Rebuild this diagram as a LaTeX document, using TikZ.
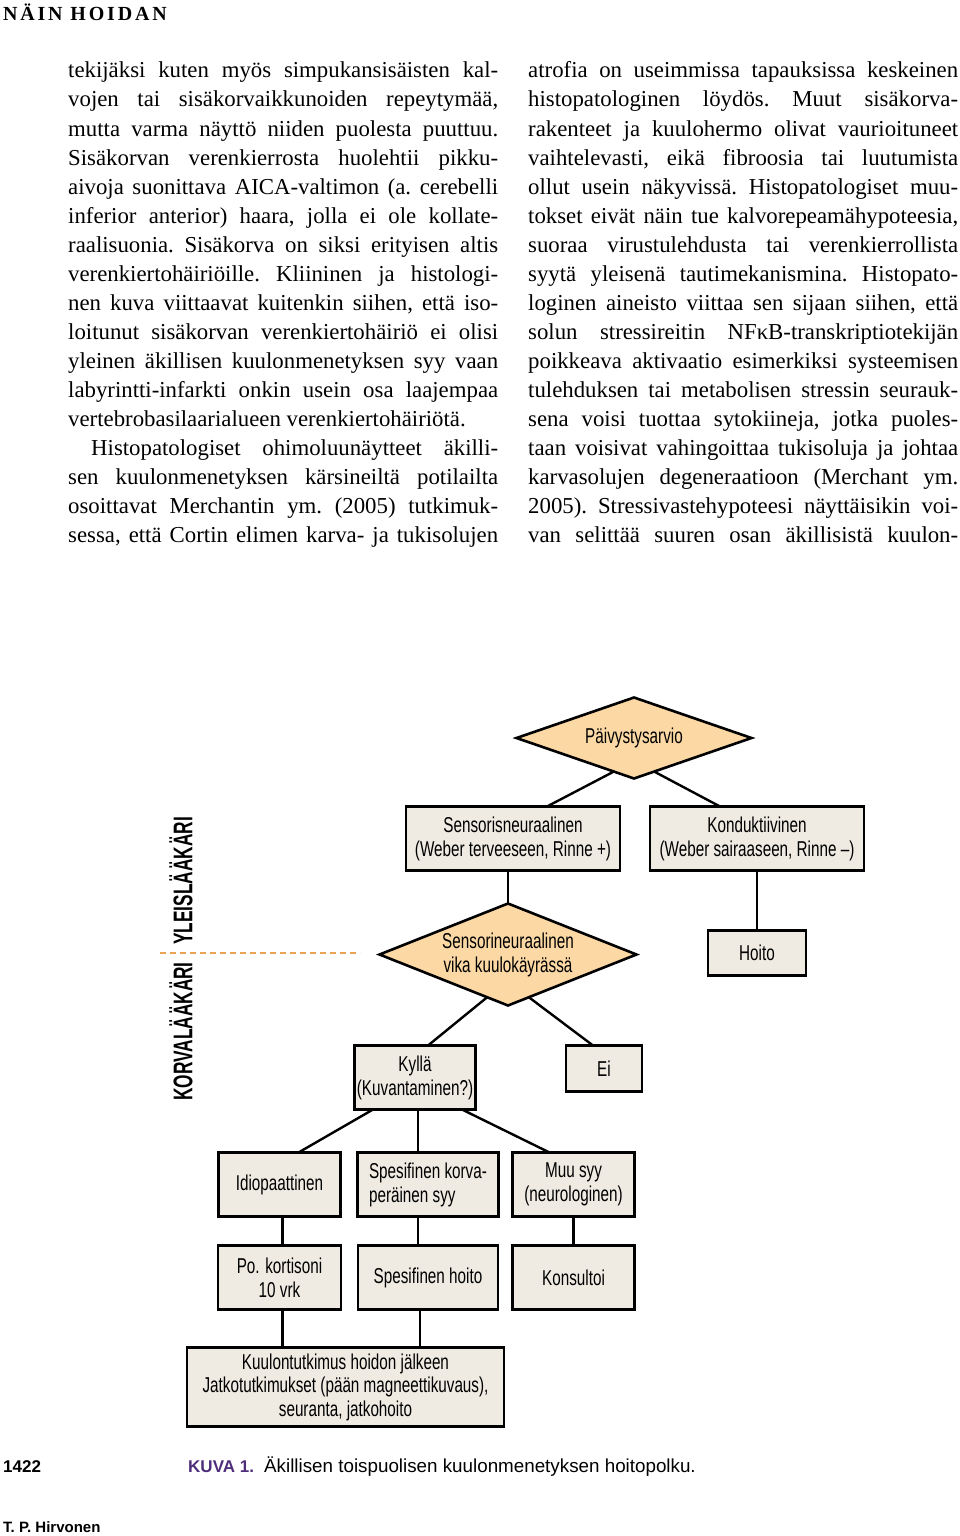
\documentclass[tikz,border=0pt]{standalone}
\usepackage{fontspec}
\setmainfont{Liberation Serif}
\setsansfont{Liberation Sans}
\newfontfamily\condsans[FakeStretch=0.71]{Liberation Sans}
\newfontfamily\vertsans[FakeStretch=0.64]{Liberation Sans}
\newfontfamily\headfont[LetterSpace=14]{Liberation Serif}
\usetikzlibrary{positioning,shapes.geometric}

\definecolor{boxfill}{RGB}{239,235,226}
\definecolor{decfill}{RGB}{251,216,164}
\definecolor{dashorange}{RGB}{234,163,84}
\definecolor{kuvapurple}{RGB}{78,46,122}

\begin{document}
\begin{tikzpicture}[x=1pt, y=-1pt, line width=2.4pt,
                    box/.style={draw,fill=boxfill,line width=2.6pt,align=center,inner sep=2pt,outer sep=0pt,
                                font=\condsans\fontsize{21.5}{24}\selectfont},
                    dec/.style={diamond,aspect=2.5,draw,fill=decfill,line width=2.6pt,align=center,inner sep=0pt,
                                outer sep=0pt,font=\condsans\fontsize{21.5}{24}\selectfont},
                    bodyline/.style={anchor=base west,inner sep=0pt,font=\frenchspacing\fontsize{22.8}{29}\selectfont},
                    vlabel/.style={rotate=90,inner sep=0pt,font=\vertsans\bfseries\fontsize{27}{27}\selectfont}
                    ]
    \useasboundingbox (0,0) rectangle (960,1536);

    \node (head) [anchor=west,inner sep=0pt] at (2,12) {\headfont\bfseries\fontsize{20}{20}\selectfont NÄIN HOIDAN};

    % text columns
    \foreach \txt [count=\i] in {
      {tekijäksi kuten myös simpukansisäisten kal-},
      {vojen tai sisäkorvaikkunoiden repeytymää,},
      {mutta varma näyttö niiden puolesta puuttuu.},
      {Sisäkorvan verenkierrosta huolehtii pikku-},
      {aivoja suonittava AICA-valtimon (a. cerebelli},
      {inferior anterior) haara, jolla ei ole kollate-},
      {raalisuonia. Sisäkorva on siksi erityisen altis},
      {verenkiertohäiriöille. Kliininen ja histologi-},
      {nen kuva viittaavat kuitenkin siihen, että iso-},
      {loitunut sisäkorvan verenkiertohäiriö ei olisi},
      {yleinen äkillisen kuulonmenetyksen syy vaan},
      {labyrintti-infarkti onkin usein osa laajempaa},
      {vertebrobasilaarialueen verenkiertohäiriötä.\hfill},
      {\hspace*{23pt}Histopatologiset ohimoluunäytteet äkilli-},
      {sen kuulonmenetyksen kärsineiltä potilailta},
      {osoittavat Merchantin ym. (2005) tutkimuk-},
      {sessa, että Cortin elimen karva- ja tukisolujen}}
      \node (l\i) [bodyline] at (67,{49+29*\i}) {\makebox[430pt][s]{\txt}};
    \foreach \txt [count=\i] in {
      {atrofia on useimmissa tapauksissa keskeinen},
      {histopatologinen löydös. Muut sisäkorva-},
      {rakenteet ja kuulohermo olivat vaurioituneet},
      {vaihtelevasti, eikä fibroosia tai luutumista},
      {ollut usein näkyvissä. Histopatologiset muu-},
      {tokset eivät näin tue kalvorepeamähypoteesia,},
      {suoraa virustulehdusta tai verenkierrollista},
      {syytä yleisenä tautimekanismina. Histopato-},
      {loginen aineisto viittaa sen sijaan siihen, että},
      {solun stressireitin NFκB-transkriptiotekijän},
      {poikkeava aktivaatio esimerkiksi systeemisen},
      {tulehduksen tai metabolisen stressin seurauk-},
      {sena voisi tuottaa sytokiineja, jotka puoles-},
      {taan voisivat vahingoittaa tukisoluja ja johtaa},
      {karvasolujen degeneraatioon (Merchant ym.},
      {2005). Stressivastehypoteesi näyttäisikin voi-},
      {van selittää suuren osan äkillisistä kuulon-}}
      \node (r\i) [bodyline] at (527,{49+29*\i}) {\makebox[430pt][s]{\txt}};

    % flowchart
    \node (paiv) [dec,minimum width=235pt,minimum height=81pt] at (634,738) {Päivystysarvio};
    \node (sens) [box,minimum width=214pt,minimum height=64pt,below=28pt of paiv,xshift=-121pt]
          {Sensorisneuraalinen\\(Weber terveeseen, Rinne +)};
    \node (kond) [box,minimum width=214pt,minimum height=64pt,right=30pt of sens]
          {Konduktiivinen\\(Weber sairaaseen, Rinne –)};
    \node (hoito) [box,minimum width=98pt,minimum height=45pt,below=60pt of kond] {Hoito};
    \node (vika) [dec,minimum width=257pt,minimum height=102pt,below=33pt of sens,xshift=-5pt]
          {Sensorineuraalinen\\vika kuulokäyrässä};
    \node (kylla) [box,minimum width=121pt,minimum height=64pt,below=40pt of vika,xshift=-93pt]
          {Kyllä\\(Kuvantaminen?)};
    \node (ei) [box,minimum width=76pt,minimum height=46pt,below=40pt of vika,xshift=96pt] {Ei};
    \node (spes) [box,minimum width=141pt,minimum height=64pt,below=43pt of kylla,xshift=13pt,align=left]
          {Spesifinen korva-\\peräinen syy};
    \node (idio) [box,minimum width=122pt,minimum height=64pt,left=17pt of spes] {Idiopaattinen};
    \node (muu) [box,minimum width=122pt,minimum height=64pt,right=14pt of spes] {Muu syy\\(neurologinen)};
    \node (kort) [box,minimum width=123pt,minimum height=64pt,below=29pt of idio] {Po. kortisoni\\10 vrk};
    \node (shoito) [box,minimum width=140pt,minimum height=64pt,below=29pt of spes] {Spesifinen hoito};
    \node (konsul) [box,minimum width=122pt,minimum height=64pt,below=29pt of muu] {Konsultoi};
    \node (jatko) [box,minimum width=317pt,minimum height=79pt,below=38pt of kort,xshift=66pt,
                   font=\condsans\fontsize{21.5}{23.5}\selectfont]
          {Kuulontutkimus hoidon jälkeen\\Jatkotutkimukset (pään magneettikuvaus),\\seuranta, jatkohoito};

    \draw (paiv.239) -- ([xshift=34pt]sens.north);
    \draw (paiv.301) -- ([xshift=-37pt]kond.north);
    \draw (vika.north) -- (vika.north |- sens.south);
    \draw (kond.south) -- (hoito.north);
    \draw (vika.244) -- ([xshift=13pt]kylla.north);
    \draw (vika.296) -- ([xshift=-11pt]ei.north);
    \draw ([xshift=-42pt]kylla.south) -- ([xshift=19pt]idio.north);
    \draw ([xshift=3pt]kylla.south) -- ([xshift=3pt]kylla.south |- spes.north);
    \draw ([xshift=47pt]kylla.south) -- ([xshift=-24pt]muu.north);
    \draw ([xshift=3pt]idio.south) -- ([xshift=3pt]idio.south |- kort.north);
    \draw ([xshift=-10pt]spes.south) -- ([xshift=-10pt]spes.south |- shoito.north);
    \draw (muu.south) -- (konsul.north);
    \draw ([xshift=3pt]kort.south) -- ([xshift=3pt]kort.south |- jatko.north);
    \draw ([xshift=-8pt]shoito.south) -- ([xshift=-8pt]shoito.south |- jatko.north);

    % side labels
    \node (korva) [vlabel,anchor=east] at (181,961) {KORVALÄÄKÄRI};
    \node (yleis) [vlabel,anchor=west] at (181,946) {YLEISLÄÄKÄRI};
    \coordinate (dashL) at (160,953);
    \coordinate (dashR) at (360,953);
    \draw[dashorange,line width=2pt,dash pattern=on 6pt off 4pt] (dashL) -- (dashR);

    % caption and footer
    \node (page) [anchor=base west,inner sep=0pt] at (2,1472) {\sffamily\bfseries\fontsize{17}{17}\selectfont 1422};
    \node (kuva) [anchor=base west,inner sep=0pt] at (187,1472)
          {\sffamily\bfseries\fontsize{17}{17}\selectfont\color{kuvapurple}KUVA 1.};
    \node (capt) [anchor=base west,inner sep=0pt] at (263,1472)
          {\sffamily\fontsize{18.8}{18.8}\selectfont Äkillisen toispuolisen kuulonmenetyksen hoitopolku.};
    \node (auth) [anchor=base west,inner sep=0pt] at (2,1532) {\sffamily\bfseries\fontsize{15}{15}\selectfont T. P. Hirvonen};
\end{tikzpicture}
\end{document}
